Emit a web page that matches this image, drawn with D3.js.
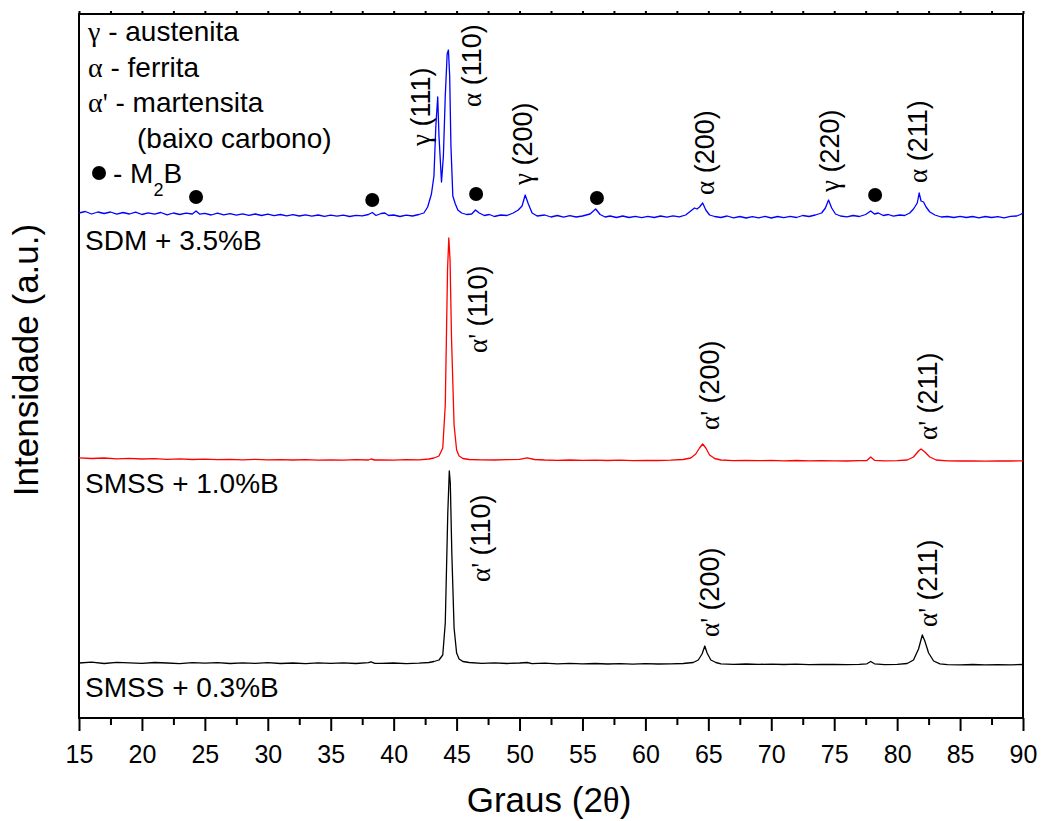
<!DOCTYPE html>
<html>
<head>
<meta charset="utf-8">
<script src="https://cdn.jsdelivr.net/npm/d3@7"></script>
<style>
  body { margin: 0; background: #fff; }
  text { font-family: "Liberation Sans", Arial, sans-serif; fill: #000; }
  .greek { font-family: "Liberation Serif", "Times New Roman", serif; }
  .axis .domain { display: none; }
  .axis line { stroke: #000; stroke-width: 2; }
  .axis text { font-size: 25px; }
</style>
</head>
<body>
<div class="chart"></div>
<script>
// XRD patterns, 2theta in degrees, intensity in arbitrary units (relative to each baseline)
var black03 = [
  [15, 0], [16, 0.8], [17, -0.5], [18, 0.6], [19, 0.2], [20, -0.4], [21, 0.5], [22, 0], [23, -0.6],
  [24, 0.4], [25, -0.2], [26, 0.3], [27, -0.5], [28, 0.2], [29, -0.3], [30, 0.4], [31, -0.5], [32, 0],
  [33, -0.6], [34, 0.1], [35, -0.4], [36, 0.2], [37, -0.5], [38, 0.3], [38.2, 1.2], [38.5, -0.3],
  [39, -0.4], [40, 0], [41, -0.6], [42, -0.2], [42.8, 0.5], [43.2, 1.5], [43.6, 3], [43.9, 8],
  [44.1, 40], [44.3, 150], [44.42, 192], [44.5, 180], [44.62, 110], [44.8, 35], [45.0, 10], [45.2, 4],
  [45.5, 1.5], [46, 0.5], [47, -0.3], [48, 0.2], [49, -0.5], [50, 0], [50.6, 0.5], [51, -0.6], [52, -0.2],
  [53, -0.8], [54, -0.3], [55, -0.9], [56, -0.5], [57, -1], [58, -0.6], [59, -1.1], [60, -0.7], [61, -1],
  [62, -0.8], [63, -0.5], [63.8, 0.5], [64.2, 3], [64.5, 9], [64.72, 17], [64.9, 10], [65.2, 3],
  [65.6, 0.5], [66, -0.9], [67, -1.3], [68, -1], [69, -1.4], [70, -1.1], [71, -1.5], [72, -1.2],
  [73, -1.6], [74, -1.3], [75, -1.5], [76, -1.7], [77, -1.4], [77.6, -0.8], [77.9, 1.5], [78.2, -0.8],
  [79, -1.6], [80, -1.4], [80.8, -0.5], [81.3, 3], [81.7, 14], [82.0, 28], [82.2, 22], [82.5, 10],
  [82.9, 2], [83.4, -0.8], [84, -1.6], [85, -1.8], [86, -1.5], [87, -1.9], [88, -1.6], [89, -1.8], [90, -1.5]
];

var red10 = [
  [15, 2.2], [16, 1.5], [17, 2], [18, 1.2], [19, 1.6], [20, 1], [21, 1.3], [22, 0.7], [23, 1.1], [24, 0.5],
  [25, 0.9], [26, 0.4], [27, 0.7], [28, 0.2], [29, 0.6], [30, 0.1], [31, 0.4], [32, 0], [33, 0.3],
  [34, -0.2], [35, 0.2], [36, -0.1], [37, 0.3], [38, 0], [38.2, 1], [38.5, 0], [39, 0.2], [40, -0.1],
  [41, 0.3], [42, 0.2], [42.8, 1], [43.2, 2], [43.6, 4], [43.9, 12], [44.1, 55], [44.28, 190],
  [44.38, 222], [44.48, 200], [44.6, 120], [44.8, 35], [45.0, 10], [45.2, 4], [45.5, 1.5], [46, 0.5],
  [47, 0.2], [48, 0], [49, 0.3], [50, 0.6], [50.6, 2.2], [51.2, 0.5], [52, 0], [53, -0.3], [54, 0],
  [55, -0.4], [56, -0.1], [57, -0.5], [58, -0.2], [59, -0.6], [60, -0.3], [61, -0.5], [62, -0.2],
  [63, 0.5], [63.6, 2], [64, 6], [64.3, 12], [64.55, 16], [64.8, 12], [65.1, 5], [65.5, 1.5], [66, 0],
  [67, -0.6], [68, -0.3], [69, -0.7], [70, -0.4], [71, -0.8], [72, -0.5], [73, -0.9], [74, -0.6],
  [75, -0.8], [76, -1], [77, -0.7], [77.6, -0.5], [77.9, 3], [78.2, -0.3], [79, -0.9], [80, -0.7],
  [80.8, 0], [81.3, 3], [81.7, 9], [81.9, 11], [82.2, 8], [82.6, 3], [83.1, 0], [84, -0.8], [85, -1],
  [86, -0.8], [87, -1.1], [88, -0.9], [89, -1], [90, -0.9]
];

var blue35 = [
  [15, 3], [15.5, 4.5], [16, 2], [16.5, 4], [17, 2.5], [17.5, 4], [18, 1.8], [18.5, 3.5], [19, 2],
  [19.5, 3.8], [20, 1.5], [20.5, 3.2], [21, 1.8], [21.5, 3.5], [22, 1.2], [22.5, 3], [23, 1.5],
  [23.5, 2.8], [24, 2], [24.3, 5], [24.6, 1.8], [25, 2.6], [25.5, 1], [26, 2.8], [26.5, 1.2], [27, 2.4],
  [27.5, 0.8], [28, 2.2], [28.5, 0.6], [29, 2], [29.5, 0.5], [30, 1.8], [30.5, 0.3], [31, 1.5],
  [31.5, 0.2], [32, 1.4], [32.5, 0], [33, 1.2], [33.5, -0.2], [34, 1], [34.5, -0.3], [35, 0.8],
  [35.5, -0.2], [36, 0.8], [36.5, -0.5], [37, 0.6], [37.5, 0.2], [38, 1.5], [38.3, 3.5], [38.6, 0.5],
  [39, 2.5], [39.3, 3], [39.6, 0.5], [40, 1], [40.5, -0.5], [41, 0.8], [41.5, 0], [42, 1.5], [42.4, 3],
  [42.7, 9], [43.0, 22], [43.2, 40], [43.35, 90], [43.5, 119], [43.6, 80], [43.8, 34], [43.95, 60],
  [44.1, 120], [44.25, 162], [44.35, 166], [44.45, 140], [44.55, 70], [44.7, 20], [44.9, 12],
  [45.1, 6], [45.4, 3], [45.8, 1.5], [46.2, 2], [46.5, 6], [46.8, 3], [47.2, 0.5], [47.6, 1.5],
  [48, -0.5], [48.5, 1], [49, 0.5], [49.5, 3], [49.9, 6], [50.2, 10], [50.45, 21], [50.7, 12], [51, 3],
  [51.4, 0], [52, 1], [52.5, -1], [53, 0.5], [53.5, -1.2], [54, 0.3], [54.5, -1], [55, 0], [55.6, 2],
  [56.05, 7], [56.4, 1.5], [56.8, -1], [57.2, 0], [57.7, -1.5], [58.2, 0], [58.7, -1.5], [59.2, -0.3],
  [59.7, -1.6], [60.2, -0.3], [60.7, -1.5], [61.2, 0], [61.7, -1.2], [62.2, 0.2], [62.7, -0.8],
  [63.2, 1], [63.6, 5], [63.9, 8], [64.1, 7], [64.3, 9], [64.55, 13], [64.8, 6], [65.1, 1], [65.5, -0.5],
  [66, -1.5], [66.5, 0], [67, -1.8], [67.5, -0.5], [68, -2], [68.5, -0.6], [69, -1.8], [69.5, -0.4],
  [70, -2], [70.5, -0.5], [71, -1.6], [71.5, -0.3], [72, -1.5], [72.5, 0.5], [73, -0.5], [73.5, 1],
  [74, 3], [74.3, 8], [74.55, 16], [74.8, 8], [75.1, 2], [75.5, 0], [76, -0.8], [76.5, 0.5], [77, -0.5],
  [77.5, 1.5], [77.9, 5], [78.2, 2], [78.5, 3], [78.9, 0.5], [79.3, 1.5], [79.7, -0.2], [80.2, 1],
  [80.6, 0.5], [81, 3], [81.3, 7], [81.6, 13], [81.75, 23], [81.9, 15], [82.1, 14], [82.3, 9], [82.6, 4],
  [83, 1], [83.5, -1], [84, -0.5], [84.5, -1.5], [85, -0.3], [85.5, -1.5], [86, -0.5], [86.5, -1.8],
  [87, -0.5], [87.5, -1.5], [88, -0.6], [88.5, -1.8], [89, -0.4], [89.5, 0], [89.8, 1.5], [90, 3]
];

// stacking offsets of each pattern (a.u.)
var offsets = { black: 55, red: 258, blue: 502 };

var sampleNames = ["SMSS + 0.3%B", "SMSS + 1.0%B", "SDM + 3.5%B"];

// M2B markers (2theta, a.u. absolute)
var m2bPeaks = [[24.3, 521], [38.3, 518], [46.55, 524], [56.15, 520], [78.25, 523]];

// peak labels: greek symbol, rest, 2theta of baseline, a.u. where text starts
var peakLabels = [
  ["γ", " (111)", 42.89, 572],
  ["α", " (110)", 46.94, 611],
  ["γ", " (200)", 50.99, 533],
  ["α", " (200)", 65.45, 523],
  ["γ", " (220)", 75.38, 526],
  ["α", " (211)", 82.37, 535],
  ["α'", " (110)", 47.41, 365],
  ["α'", " (200)", 65.85, 288],
  ["α'", " (211)", 83.16, 278],
  ["α'", " (110)", 47.65, 136],
  ["α'", " (200)", 65.85, 81],
  ["α'", " (211)", 83.16, 91]
];

var legendSymbols = ["γ", "α", "α'", "", "●"];
var legendTexts = [" - austenita", " - ferrita", " - martensita", "(baixo carbono)", " - M"];

var majorTicks = d3.range(15, 91, 5);
var minorTicks = d3.range(17.5, 90, 5);

var margin = { top: 14, right: 20, bottom: 103, left: 79 },
  chart_width = 1043 - margin.left - margin.right,
  chart_height = 821 - margin.top - margin.bottom;

var svg = d3.select(".chart").append("svg")
  .attr("width", 1043)
  .attr("height", 821)
  .append("g")
  .attr("transform", "translate(" + margin.left + "," + margin.top + ")");

var xScale = d3.scaleLinear().domain([15, 90]).range([0, chart_width]);
var yScale = d3.scaleLinear().domain([0, 704]).range([chart_height, 0]);

// bottom axis, major + minor ticks
svg.append("g")
  .attr("class", "axis")
  .attr("transform", "translate(0," + chart_height + ")")
  .call(d3.axisBottom(xScale).tickValues(majorTicks).tickSize(13).tickPadding(14).tickFormat(d3.format("d")));

svg.append("g")
  .attr("class", "axis")
  .attr("transform", "translate(0," + chart_height + ")")
  .call(d3.axisBottom(xScale).tickValues(minorTicks).tickSize(7).tickFormat(""));

// top axis small ticks
svg.append("g")
  .attr("class", "axis")
  .call(d3.axisTop(xScale).tickValues(majorTicks.concat(minorTicks)).tickSize(3).tickFormat(""));

// frame
svg.append("rect")
  .attr("width", chart_width)
  .attr("height", chart_height)
  .attr("fill", "none")
  .attr("stroke", "#000")
  .attr("stroke-width", 2);

var lineGen = function (off) {
  return d3.line()
    .x(function (d) { return xScale(d[0]); })
    .y(function (d) { return yScale(d[1] + off); });
};

var series = [
  { data: black03, off: offsets.black, color: "#000000" },
  { data: red10, off: offsets.red, color: "#ff0000" },
  { data: blue35, off: offsets.blue, color: "#0000ff" }
];

series.forEach(function (s) {
  svg.append("path")
    .attr("d", lineGen(s.off)(s.data))
    .attr("fill", "none")
    .attr("stroke", s.color)
    .attr("stroke-width", 1.3)
    .attr("stroke-linejoin", "round");
});

// sample names under each pattern
var nameY = [offsets.black - 34, offsets.red - 33, offsets.blue - 34];
sampleNames.forEach(function (n, i) {
  svg.append("text")
    .attr("x", 6)
    .attr("y", yScale(nameY[i]))
    .attr("font-size", "28px")
    .text(n);
});

// M2B dots
svg.selectAll(".m2b").data(m2bPeaks).enter().append("circle")
  .attr("cx", function (d) { return xScale(d[0]); })
  .attr("cy", function (d) { return yScale(d[1]); })
  .attr("r", 7)
  .attr("fill", "#000");

// peak labels, rotated
peakLabels.forEach(function (p) {
  var t = svg.append("text")
    .attr("transform", "translate(" + xScale(p[2]) + "," + yScale(p[3]) + ") rotate(-90)")
    .attr("font-size", "27px");
  t.append("tspan").attr("class", "greek").text(p[0]);
  t.append("tspan").text(p[1]);
});

// legend block
legendTexts.forEach(function (txt, i) {
  var ly = 27 + i * 35.5;
  if (legendSymbols[i] === "●") {
    svg.append("circle").attr("cx", 20).attr("cy", ly - 10).attr("r", 7).attr("fill", "#000");
    var m = svg.append("text").attr("x", 34).attr("y", ly).attr("font-size", "28px");
    m.append("tspan").text(txt);
    m.append("tspan").attr("font-size", "18px").attr("dy", 13).text("2");
    m.append("tspan").attr("dy", -13).text("B");
    return;
  }
  var t = svg.append("text")
    .attr("x", i === 3 ? 58 : 9)
    .attr("y", ly)
    .attr("font-size", "28px");
  t.append("tspan").attr("class", "greek").text(legendSymbols[i]);
  t.append("tspan").text(txt);
});

// axis titles
var xt = svg.append("text")
  .attr("x", chart_width / 2 - 2)
  .attr("y", chart_height + 94)
  .attr("text-anchor", "middle")
  .attr("font-size", "35px");
xt.append("tspan").text("Graus (2");
xt.append("tspan").attr("class", "greek").text("θ");
xt.append("tspan").text(")");

svg.append("text")
  .attr("transform", "rotate(-90)")
  .attr("x", -chart_height / 2 + 6)
  .attr("y", -41)
  .attr("text-anchor", "middle")
  .attr("font-size", "35px")
  .text("Intensidade (a.u.)");
</script>
</body>
</html>
